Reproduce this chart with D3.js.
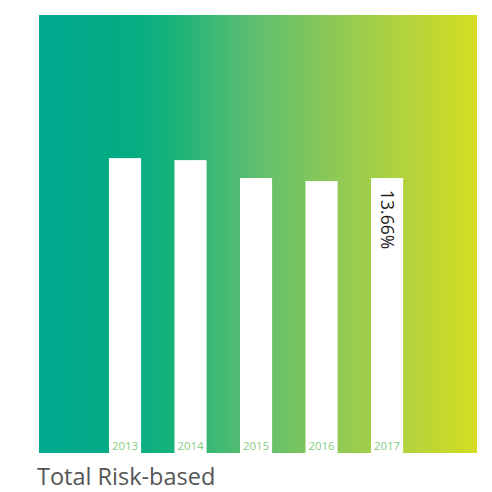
<!DOCTYPE html>
<html>
<head>
<meta charset="utf-8">
<script src="https://cdn.jsdelivr.net/npm/d3@7"></script>
<style>
  body { margin: 0; background: #fff; }
</style>
</head>
<body>
<div id="chart"></div>
<script>
// data
const years = ['2013', '2014', '2015', '2016', '2017'];
const ratios = [14.65, 14.55, 13.66, 13.51, 13.66];
const labelledYear = '2017';
const title = 'Total Risk-based';

const width = 492, height = 492;
const plot = { left: 39, right: 477, top: 15, bottom: 453 };

const svg = d3.select('#chart')
  .append('svg')
  .attr('width', width)
  .attr('height', height);

// background gradient, teal to lime
const grad = svg.append('defs').append('linearGradient')
  .attr('id', 'bg')
  .attr('x1', '0%').attr('x2', '100%')
  .attr('y1', '0%').attr('y2', '0%');
[
  [0, '#00a88f'], [0.22, '#05ad82'], [0.3, '#17b27a'], [0.48, '#5abe70'],
  [0.68, '#8fc955'], [0.85, '#b6d43c'], [1, '#d4dd22']
].forEach(([o, c]) => grad.append('stop').attr('offset', o).attr('stop-color', c));

svg.append('rect')
  .attr('x', plot.left)
  .attr('y', plot.top)
  .attr('width', plot.right - plot.left)
  .attr('height', plot.bottom - plot.top)
  .attr('fill', 'url(#bg)');

const x = d3.scaleBand()
  .domain(years)
  .range([92.3, 419.8])
  .paddingInner(0.51)
  .paddingOuter(0.255);

const y = d3.scaleLinear()
  .domain([0, 21.76])
  .range([plot.bottom, plot.top]);

const data = years.map((yr, i) => ({ year: yr, value: ratios[i] }));

svg.selectAll('rect.bar')
  .data(data)
  .enter()
  .append('rect')
  .attr('class', 'bar')
  .attr('x', d => x(d.year))
  .attr('y', d => y(d.value))
  .attr('width', x.bandwidth())
  .attr('height', d => y(0) - y(d.value))
  .attr('fill', '#fff');

// year labels at the foot of each bar
svg.selectAll('text.year')
  .data(data)
  .enter()
  .append('text')
  .attr('class', 'year')
  .attr('x', d => x(d.year) + x.bandwidth() / 2)
  .attr('y', plot.bottom - 3)
  .attr('text-anchor', 'middle')
  .attr('font-family', 'Open Sans, sans-serif')
  .attr('font-size', 11.5)
  .attr('fill', '#86cc84')
  .text(d => d.year);

// value label, rotated, inside the last bar
const last = data.find(d => d.year === labelledYear);
svg.append('text')
  .attr('transform', `translate(${x(last.year) + 10},${y(last.value) + 12}) rotate(90)`)
  .attr('font-family', 'Open Sans, sans-serif')
  .attr('font-size', 17.5)
  .attr('fill', '#222')
  .text(last.value.toFixed(2) + '%');

svg.append('text')
  .attr('x', 37)
  .attr('y', 485)
  .attr('font-family', 'Open Sans, sans-serif')
  .attr('font-size', 23.5)
  .attr('fill', '#555')
  .text(title);
</script>
</body>
</html>
